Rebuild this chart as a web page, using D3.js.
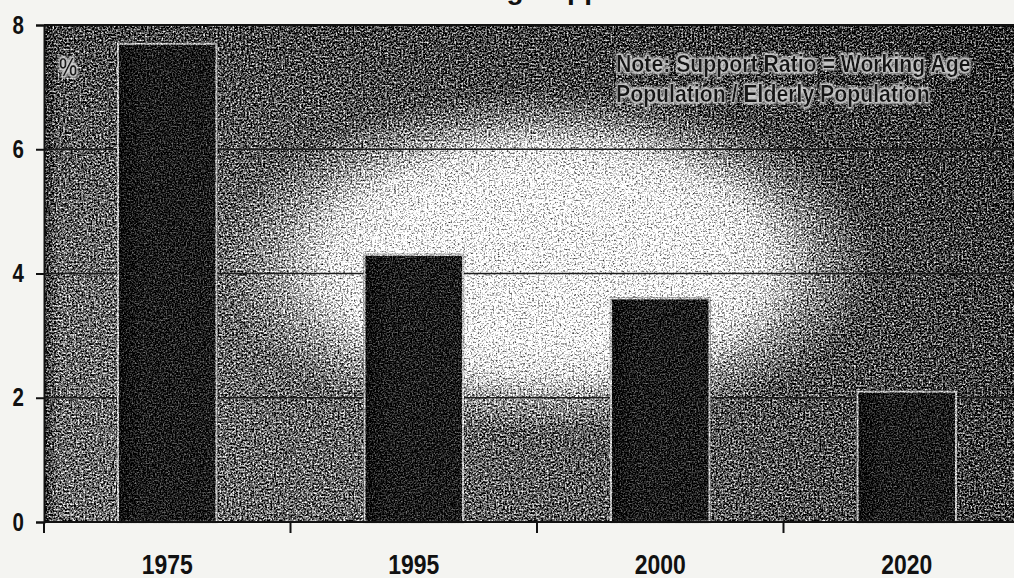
<!DOCTYPE html>
<html>
<head>
<meta charset="utf-8">
<script src="https://cdn.jsdelivr.net/npm/d3@7/dist/d3.min.js"></script>
<style>
  html, body { margin: 0; padding: 0; background: #f4f4f1; }
  svg { display: block; }
  text { font-family: "Liberation Sans", Arial, sans-serif; font-weight: bold; }
</style>
</head>
<body>
<svg id="chart" width="1014" height="578"></svg>
<script>
// Support ratio (working-age population per elderly person)
const years = ["1975", "1995", "2000", "2020"];
const supportRatio = [7.7, 4.3, 3.6, 2.1];
const yTicks = [0, 2, 4, 6, 8];
const gridValues = [2, 4, 6];
const titleText = "Declining Support Ratio";
const unitLabel = "%";
const noteLines = ["Note: Support Ratio = Working Age", "Population / Elderly Population"];

const W = 1014, H = 578;
const margin = { top: 25, left: 44 };
const plotRight = 1030;            // the frame runs past the right edge of the page
const narrow = 0.82;               // horizontal squeeze for condensed lettering

const svg = d3.select("#chart");
const defs = svg.append("defs");

// film grain: turbulence added to the source, clipped to the source shape
function grainFilter(id, strength, freq, seed) {
  const f = defs.append("filter").attr("id", id)
    .attr("filterUnits", "userSpaceOnUse")
    .attr("x", 0).attr("y", 0).attr("width", W).attr("height", H)
    .attr("color-interpolation-filters", "sRGB");
  f.append("feTurbulence").attr("type", "fractalNoise")
    .attr("baseFrequency", freq).attr("numOctaves", 2).attr("seed", seed).attr("result", "noise");
  f.append("feColorMatrix").attr("in", "noise").attr("type", "matrix")
    .attr("values", "1 0 0 0 0  1 0 0 0 0  1 0 0 0 0  0 0 0 0 1").attr("result", "gray");
  f.append("feComposite").attr("in", "SourceGraphic").attr("in2", "gray")
    .attr("operator", "arithmetic").attr("k1", 0).attr("k2", 1)
    .attr("k3", strength).attr("k4", -strength / 2).attr("result", "mix");
  f.append("feGaussianBlur").attr("in", "mix").attr("stdDeviation", 0.35).attr("result", "soft");
  f.append("feComposite").attr("in", "soft").attr("in2", "SourceGraphic").attr("operator", "in");
}
grainFilter("grain", 2.2, 0.55, 11);
grainFilter("grainBar", 1.1, 0.65, 5);

// light halo behind dark lettering
const halo = defs.append("filter").attr("id", "halo")
  .attr("x", "-10%").attr("y", "-30%").attr("width", "120%").attr("height", "160%");
halo.append("feMorphology").attr("in", "SourceAlpha").attr("operator", "dilate").attr("radius", 1.5).attr("result", "fat");
halo.append("feFlood").attr("flood-color", "#cfcfcf").attr("result", "col");
halo.append("feComposite").attr("in", "col").attr("in2", "fat").attr("operator", "in").attr("result", "ring");
halo.append("feGaussianBlur").attr("in", "ring").attr("stdDeviation", 1).attr("result", "soft");
const hm = halo.append("feMerge");
hm.append("feMergeNode").attr("in", "soft");
hm.append("feMergeNode").attr("in", "SourceGraphic");

// background shading of the plot
const baseGrad = defs.append("linearGradient").attr("id", "baseGrad")
  .attr("gradientUnits", "userSpaceOnUse")
  .attr("x1", margin.left).attr("y1", 0).attr("x2", W).attr("y2", 0);
[["0", "#6a6a6a"], ["0.3", "#656565"], ["0.7", "#555"], ["1", "#383838"]]
  .forEach(([o, c]) => baseGrad.append("stop").attr("offset", o).attr("stop-color", c));

const topShade = defs.append("linearGradient").attr("id", "topShade")
  .attr("x1", 0).attr("y1", 0).attr("x2", 0).attr("y2", 1);
[["0", 0.35], ["0.25", 0.15], ["0.5", 0], ["1", 0]]
  .forEach(([o, a]) => topShade.append("stop").attr("offset", o).attr("stop-color", "#000").attr("stop-opacity", a));

const gx = 548, gy = 262;
const glow = defs.append("radialGradient").attr("id", "glow")
  .attr("gradientUnits", "userSpaceOnUse")
  .attr("cx", gx).attr("cy", gy).attr("r", 330)
  .attr("gradientTransform", `translate(${gx},${gy}) scale(1,0.52) translate(${-gx},${-gy})`);
[["0", 1], ["0.5", 1], ["0.66", 0.85], ["0.82", 0.35], ["1", 0]]
  .forEach(([o, a]) => glow.append("stop").attr("offset", o).attr("stop-color", "#fff").attr("stop-opacity", a));

const edgeShade = defs.append("linearGradient").attr("id", "edgeShade")
  .attr("x1", 0).attr("y1", 0).attr("x2", 1).attr("y2", 0);
[["0", 0.55], ["1", 0]]
  .forEach(([o, a]) => edgeShade.append("stop").attr("offset", o).attr("stop-color", "#000").attr("stop-opacity", a));

const barShade = defs.append("linearGradient").attr("id", "barShade")
  .attr("x1", 0).attr("y1", 0).attr("x2", 1).attr("y2", 0);
[["0", "#0a0a0a"], ["0.1", "#121212"], ["0.25", "#1c1c1c"], ["1", "#1b1b1b"]]
  .forEach(([o, c]) => barShade.append("stop").attr("offset", o).attr("stop-color", c));

// scales
const y = d3.scaleLinear().domain([0, 8]).range([522, margin.top]);
const x = d3.scaleBand().domain(years).range([margin.left, plotRight])
  .paddingInner(0.6).paddingOuter(0.3);
const step = x.step();

const plotH = y(0) - y(8);
const plotW = plotRight - margin.left;

// title (sits above the page top, only its descenders reach the page)
svg.append("text")
  .attr("x", 557).attr("y", -1)
  .attr("text-anchor", "middle")
  .attr("font-size", 28).attr("fill", "#111")
  .text(titleText);

// plot background with grain
const bg = svg.append("g").attr("filter", "url(#grain)");
["url(#baseGrad)", "url(#topShade)", "url(#glow)"].forEach(fill => {
  bg.append("rect").attr("x", margin.left).attr("y", y(8)).attr("width", plotW).attr("height", plotH)
    .attr("fill", fill);
});
bg.append("rect").attr("x", margin.left).attr("y", y(8)).attr("width", 14).attr("height", plotH)
  .attr("fill", "url(#edgeShade)");

// gridlines
svg.append("g").selectAll("line").data(gridValues).join("line")
  .attr("x1", margin.left).attr("x2", W)
  .attr("y1", d => y(d)).attr("y2", d => y(d))
  .attr("stroke", "#1c1c1c").attr("stroke-width", 1.4);

// bars
const bars = svg.append("g").attr("filter", "url(#grainBar)");
bars.selectAll("rect").data(years).join("rect")
  .attr("x", d => x(d))
  .attr("y", (d, i) => y(supportRatio[i]))
  .attr("width", x.bandwidth())
  .attr("height", (d, i) => y(0) - y(supportRatio[i]))
  .attr("fill", "url(#barShade)")
  .attr("stroke", "#bdbdbd").attr("stroke-width", 2.2);

// unit label and note
svg.append("text")
  .attr("transform", `translate(59,76) scale(${narrow},1)`)
  .attr("font-size", 25).attr("fill", "#1a1a1a").attr("filter", "url(#halo)")
  .text(unitLabel);

svg.append("g").attr("filter", "url(#halo)")
  .attr("transform", "translate(616,0) scale(0.885,1)")
  .selectAll("text").data(noteLines).join("text")
  .attr("x", 0).attr("y", (d, i) => 72 + i * 30)
  .attr("font-size", 24).attr("fill", "#151515")
  .text(d => d);

// y axis
const yAxis = d3.axisLeft(y).tickValues(yTicks).tickSize(8).tickPadding(12).tickFormat(d3.format("d"));
const ya = svg.append("g").attr("transform", `translate(${margin.left},0)`).call(yAxis);
ya.select(".domain").attr("stroke", "#111").attr("stroke-width", 2);
ya.selectAll(".tick line").attr("stroke", "#111").attr("stroke-width", 2);
ya.selectAll(".tick text").attr("font-size", 25).attr("fill", "#111")
  .attr("transform", `scale(${narrow},1)`)
  .attr("x", -20 / narrow);

// top frame line
svg.append("line").attr("x1", margin.left).attr("x2", W)
  .attr("y1", y(8)).attr("y2", y(8)).attr("stroke", "#111").attr("stroke-width", 2);

// x axis: labels centred under bars, ticks at the category boundaries
const xAxis = d3.axisBottom(x).tickSize(0).tickPadding(32);
const xa = svg.append("g").attr("transform", `translate(0,${y(0)})`).call(xAxis);
xa.select(".domain").remove();
xa.selectAll(".tick text").attr("font-size", 28).attr("fill", "#111")
  .attr("transform", `scale(${narrow},1)`);

svg.append("line").attr("x1", margin.left).attr("x2", W)
  .attr("y1", y(0)).attr("y2", y(0)).attr("stroke", "#111").attr("stroke-width", 2);

svg.append("g").selectAll("line").data(years).join("line")
  .attr("x1", d => x(d) + x.bandwidth() / 2 - step / 2)
  .attr("x2", d => x(d) + x.bandwidth() / 2 - step / 2)
  .attr("y1", y(0)).attr("y2", y(0) + 11)
  .attr("stroke", "#111").attr("stroke-width", 2);
</script>
</body>
</html>
